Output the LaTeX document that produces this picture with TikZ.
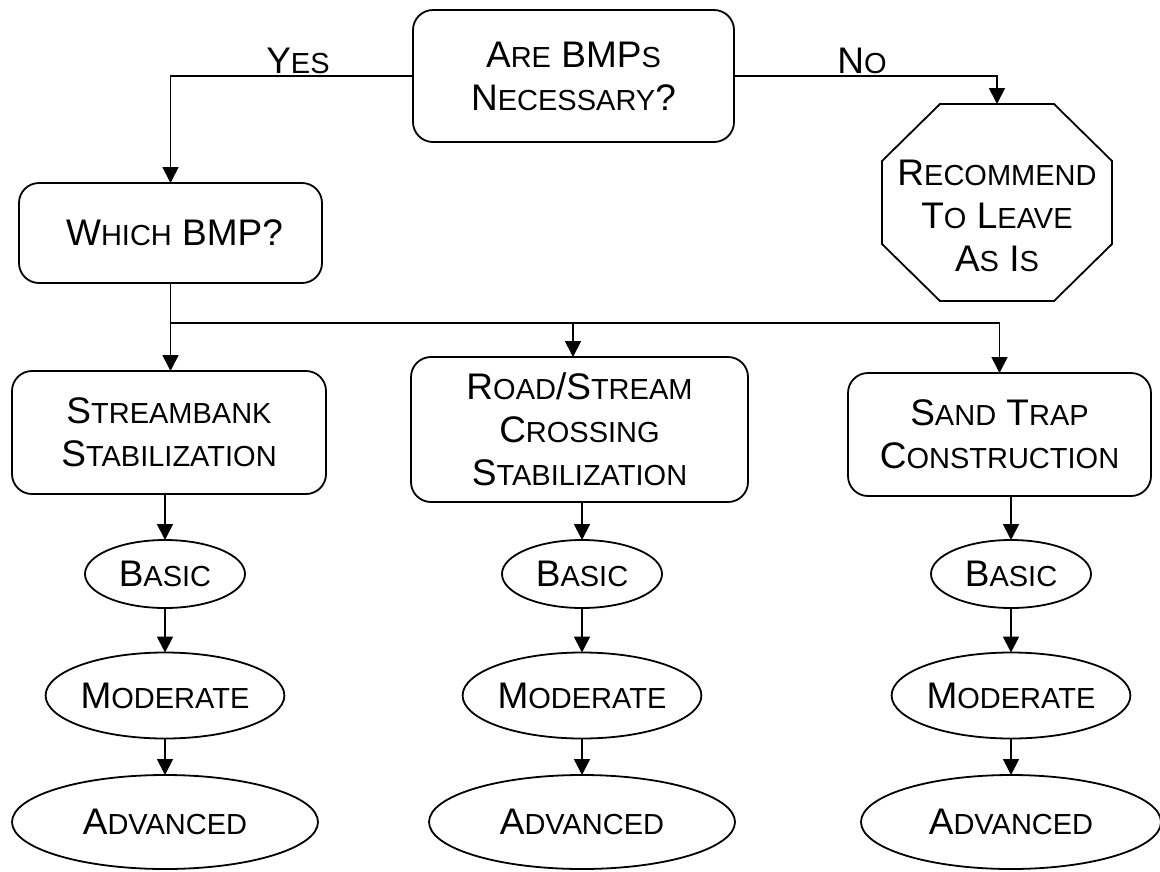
\documentclass[tikz,border=0pt]{standalone}
\usepackage{fontspec}
\setmainfont{Liberation Sans}
\usetikzlibrary{shapes.geometric,arrows.meta}
\newcommand\sm[1]{{\fontsize{29}{43}\selectfont #1}}
\begin{document}
\begin{tikzpicture}[x=1pt,y=-1pt,line width=1.8pt,
  every node/.style={font=\fontsize{37}{43}\selectfont,inner sep=0pt,outer sep=0pt,align=center},
  box/.style={draw,rounded corners=20pt},
  oval/.style={draw,ellipse},
  lbl/.style={anchor=base},
  arr/.style={-{Triangle[width=16pt,length=16pt]}}]
\useasboundingbox (0,0) rectangle (1160,871);
% top level
\node[box,minimum width=321pt,minimum height=132pt] (top) at (573.5,76) {A\sm{RE} BMP\sm{S}\\N\sm{ECESSARY}?};
\node[box,minimum width=303pt,minimum height=100pt] (which) at (170.5,233) {\hspace*{8pt}W\sm{HICH} BMP?};
\node[minimum width=230pt,minimum height=197pt] (rec) at (997,202.5) {};
\draw (940,104) -- (1054,104) -- (1112,161) -- (1112,244) -- (1054,301) -- (940,301) -- (882,244) -- (882,161) -- cycle;
\node (rectxt) at (997,216) {R\sm{ECOMMEND}\\T\sm{O} L\sm{EAVE}\\A\sm{S} I\sm{S}};
\node[lbl] (yes) at (298,73) {Y\sm{ES}};
\node[lbl] (no) at (862,73) {N\sm{O}};
% second level boxes
\node[box,minimum width=314pt,minimum height=123pt] (sb) at (169,432.5) {S\sm{TREAMBANK}\\S\sm{TABILIZATION}};
\node[box,minimum width=337pt,minimum height=145pt] (rs) at (579.5,429.5) {R\sm{OAD}/S\sm{TREAM}\\C\sm{ROSSING}\\S\sm{TABILIZATION}};
\node[box,minimum width=303pt,minimum height=123pt] (st) at (999.5,434.5) {S\sm{AND} T\sm{RAP}\\C\sm{ONSTRUCTION}};
% ellipses
\node[oval,minimum width=160pt,minimum height=68pt] (sb1) at (165,574) {B\sm{ASIC}};
\node[oval,minimum width=234pt,minimum height=86pt] (sb2) at (165,695.5) {M\sm{ODERATE}};
\node[oval,minimum width=306pt,minimum height=94pt] (sb3) at (165,822) {A\sm{DVANCED}};
\node[oval,minimum width=160pt,minimum height=68pt] (rs1) at (582,574) {B\sm{ASIC}};
\node[oval,minimum width=234pt,minimum height=86pt] (rs2) at (582,695.5) {M\sm{ODERATE}};
\node[oval,minimum width=306pt,minimum height=94pt] (rs3) at (582,822) {A\sm{DVANCED}};
\node[oval,minimum width=160pt,minimum height=68pt] (st1) at (1011,574) {B\sm{ASIC}};
\node[oval,minimum width=234pt,minimum height=86pt] (st2) at (1011,695.5) {M\sm{ODERATE}};
\node[oval,minimum width=300pt,minimum height=94pt] (st3) at (1011,822) {A\sm{DVANCED}};
% connectors
\draw[arr] (top.west) -| (which.north);
\draw[arr] (top.east) -| (rec.north);
\draw[arr] (which.south) -- (which.south |- sb.north);
\path (which.south) ++(0,40) coordinate (br);
\draw[arr] (br) -| (st.north);
\coordinate (rsin) at (573,323);
\draw[arr] (rsin) -- (rsin |- rs.north);
\draw[arr] (sb.south -| sb1.north) -- (sb1.north);
\draw[arr] (sb1) -- (sb2);
\draw[arr] (sb2) -- (sb3);
\draw[arr] (rs.south -| rs1.north) -- (rs1.north);
\draw[arr] (rs1) -- (rs2);
\draw[arr] (rs2) -- (rs3);
\draw[arr] (st.south -| st1.north) -- (st1.north);
\draw[arr] (st1) -- (st2);
\draw[arr] (st2) -- (st3);
\end{tikzpicture}
\end{document}
